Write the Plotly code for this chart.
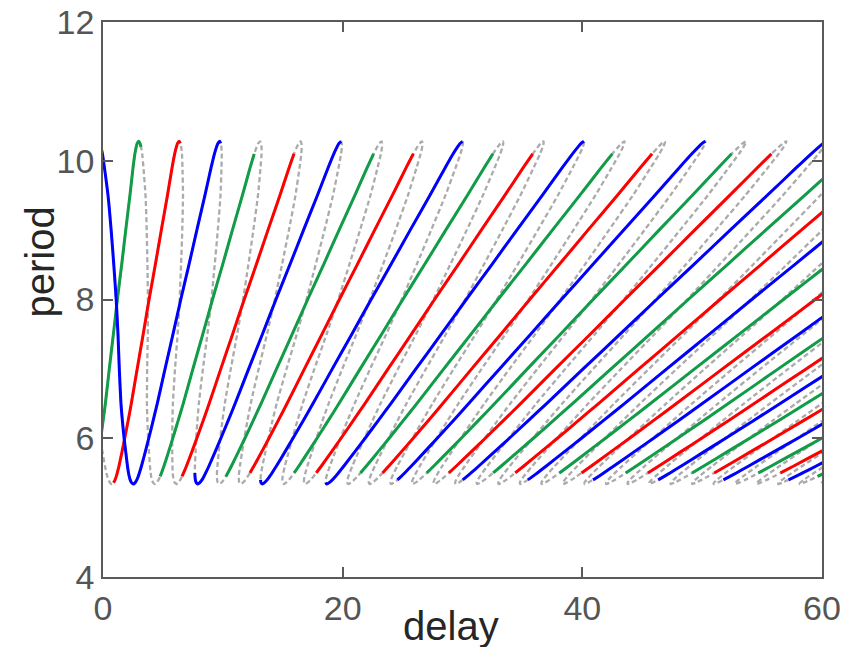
import plotly.graph_objects as go

# ---- data ----------------------------------------------------------------
# period grid (y) and the two sides of the base loop (delay offsets)
T_GRID = [5.34, 5.36, 5.40, 5.45, 5.50, 5.60, 5.80, 6.00, 6.25, 6.50, 7.00,
          7.50, 8.00, 8.50, 9.00, 9.50, 9.90, 10.10, 10.20, 10.25, 10.28]
F_LEFT = [-2.85, -2.72, -2.62, -2.55, -2.50, -2.42, -2.30, -2.20, -2.08, -1.97, -1.80,
          -1.62, -1.45, -1.25, -1.07, -0.88, -0.75, -0.66, -0.58, -0.52, -0.40]
F_RIGHT = [2.53, 2.38, 2.27, 2.19, 2.13, 2.04, 1.90, 1.76, 1.62, 1.50, 1.36,
           1.25, 1.10, 0.90, 0.68, 0.42, 0.12, -0.05, -0.18, -0.28, -0.40]
# delay spacing between neighbouring branches at each period level
SPACING = [1.794, 1.800, 1.813, 1.829, 1.845, 1.877, 1.941, 2.006, 2.086, 2.166, 2.326,
           2.487, 2.647, 2.807, 2.967, 3.128, 3.256, 3.320, 3.352, 3.368, 3.378]

# branch indices and the coloured (stable) part of each branch
BRANCH_K = list(range(1, 35))
HOOK_T = {3: 10.28, 6: 5.50, 9: 5.40, 12: 5.36}
START_T = {1: 5.34, 2: 5.36, 4: 5.45, 5: 5.45, 7: 5.45, 8: 5.50, 34: 5.45}
OVER_T = {1: 10.20, 2: 10.25, 3: 10.25}
BLUE_START = 5.40
OTHER_START = 5.50
BLUE_END = 10.28
OTHER_END = 10.10

COLORS = ['#0000ff', '#119c48', '#ff0000']
GREY = '#ababab'
DASHED_K = list(range(-3, 40))

X_TICKS = [0, 20, 40, 60]
Y_TICKS = [4, 6, 8, 10, 12]
X_TITLE = 'delay'
Y_TITLE = 'period'

FONT = 'Liberation Sans, Arial, Helvetica, sans-serif'


def side(f, k, t_from, t_to):
    i0 = T_GRID.index(t_from)
    i1 = T_GRID.index(t_to)
    step = 1 if i1 >= i0 else -1
    idx = list(range(i0, i1 + step, step))
    return [f[i] + k * SPACING[i] for i in idx], [T_GRID[i] for i in idx]


fig = go.Figure()

# dashed full solution branches (one snake per colour class)
for c in range(3):
    xs, ys = [], []
    for k in DASHED_K:
        if k % 3 != c:
            continue
        a, b = side(F_LEFT, k, T_GRID[0], T_GRID[-1])
        xs += a; ys += b
        a, b = side(F_RIGHT, k, T_GRID[-1], T_GRID[0])
        xs += a[1:]; ys += b[1:]
    fig.add_trace(go.Scatter(x=xs, y=ys, mode='lines',
                             line=dict(color=GREY, width=2.3, dash='5px,3px',
                                       shape='spline', smoothing=0.6),
                             hoverinfo='skip'))

# coloured stable parts
for k in BRANCH_K:
    col = COLORS[k % 3]
    xs, ys = [], []
    if k in HOOK_T:
        a, b = side(F_RIGHT, k - 3, HOOK_T[k], T_GRID[0])
        xs += a; ys += b
        a, b = side(F_LEFT, k, T_GRID[0], BLUE_END)
        xs += a[1:]; ys += b[1:]
    else:
        st = START_T.get(k, BLUE_START if k % 3 == 0 else OTHER_START)
        en = BLUE_END if (k % 3 == 0 or k in OVER_T) else OTHER_END
        a, b = side(F_LEFT, k, st, en)
        xs += a; ys += b
    if k in OVER_T:
        a, b = side(F_RIGHT, k, T_GRID[-1], OVER_T[k])
        xs += a[1:]; ys += b[1:]
    fig.add_trace(go.Scatter(x=xs, y=ys, mode='lines',
                             line=dict(color=col, width=3, shape='spline', smoothing=0.6),
                             hoverinfo='skip'))

axis_common = dict(showline=True, linecolor='#5a5a5a', linewidth=1.5, mirror='ticks',
                   ticks='inside', ticklen=10, tickwidth=1.5, tickcolor='#5a5a5a',
                   showgrid=False, zeroline=False, automargin=False,
                   ticklabeloverflow='allow',
                   tickfont=dict(family=FONT, size=34, color='#555555'))

fig.update_xaxes(range=[0, 60], tickvals=X_TICKS, ticktext=[str(v) for v in X_TICKS],
                 **axis_common)
fig.update_yaxes(range=[4, 12], tickvals=Y_TICKS, ticktext=[str(v) for v in Y_TICKS],
                 **axis_common)

fig.add_annotation(text=X_TITLE, xref='paper', yref='paper', x=0.484, y=-0.088,
                   showarrow=False, xanchor='center', yanchor='middle',
                   font=dict(family=FONT, size=40, color='#262626'))
fig.add_annotation(text=Y_TITLE, xref='paper', yref='paper', x=-0.088, y=0.568,
                   showarrow=False, xanchor='center', yanchor='middle', textangle=-90,
                   font=dict(family=FONT, size=40, color='#262626'))

fig.update_layout(width=852, height=647, margin=dict(l=103, r=30, t=22, b=70),
                  plot_bgcolor='white', paper_bgcolor='white', showlegend=False)

# remove the page's default body margin so the figure fills the window exactly
fig.write_html('out.html', config={'displayModeBar': False},
               post_script="document.body.style.margin='0px';")
